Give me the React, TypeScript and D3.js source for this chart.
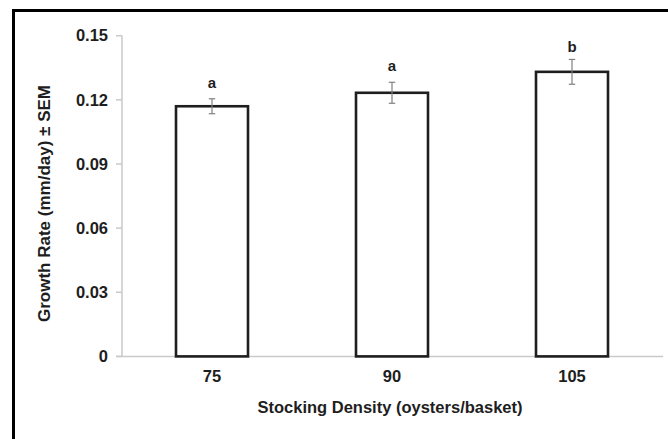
import React from "react";
import * as d3 from "d3";

const categories = ["75", "90", "105"];
const means = [0.117, 0.1233, 0.1331];
const sems = [0.0035, 0.0049, 0.0058];
const letters = ["a", "a", "b"];
const yTicks = [0, 0.03, 0.06, 0.09, 0.12, 0.15];

const W = 668;
const H = 439;
const FONT = "'Liberation Sans', Arial, Helvetica, sans-serif";
const TEXT = "#1e1e1e";

export default function App() {
  const left = 122;
  const right = 662;
  const top = 35.7;
  const bottom = 356.4;

  const x = d3
    .scaleBand<string>()
    .domain(categories)
    .range([left, right])
    .paddingInner(0.6)
    .paddingOuter(0.3);
  const y = d3.scaleLinear().domain([0, 0.15]).range([bottom, top]);
  const fmt = (v: number) => (v === 0 ? "0" : d3.format(".2f")(v));

  return (
    <svg
      width={W}
      height={H}
      style={{ position: "absolute", left: 0, top: 0, background: "#fff" }}
      fontFamily={FONT}
    >
      <rect x={0} y={0} width={W} height={H} fill="#fff" />
      {/* outer frame (clipped right and bottom) */}
      <path d={`M13.5,${H + 5} V10.5 H${W + 5}`} fill="none" stroke="#000" strokeWidth={3} />

      {/* y axis */}
      <line x1={left} x2={left} y1={y(0.15)} y2={bottom} stroke="#c9c9c9" strokeWidth={1.5} />
      {yTicks.map((t) => (
        <g key={t}>
          <line x1={left - 6} x2={left} y1={y(t)} y2={y(t)} stroke="#c9c9c9" strokeWidth={1.5} />
          <text
            x={108}
            y={y(t)}
            dy="0.35em"
            textAnchor="end"
            fontSize={16.5}
            fontWeight="bold"
            fill={TEXT}
          >
            {fmt(t)}
          </text>
        </g>
      ))}
      {/* x axis baseline */}
      <line x1={left - 6} x2={right + 1} y1={bottom} y2={bottom} stroke="#c9c9c9" strokeWidth={1.5} />

      {/* bars */}
      {categories.map((c, i) => {
        const bx = x(c)!;
        const bw = x.bandwidth();
        const cx = bx + bw / 2;
        const yTop = y(means[i]);
        const eHi = y(means[i] + sems[i]);
        const eLo = y(means[i] - sems[i]);
        return (
          <g key={c}>
            <rect
              x={bx}
              y={yTop}
              width={bw}
              height={bottom - yTop}
              fill="#fff"
              stroke="#1e1e1e"
              strokeWidth={2.6}
            />
            <line x1={cx} x2={cx} y1={eHi} y2={eLo} stroke="#808080" strokeWidth={1.2} />
            <line x1={cx - 3.2} x2={cx + 3.2} y1={eHi} y2={eHi} stroke="#808080" strokeWidth={1.2} />
            <line x1={cx - 3.2} x2={cx + 3.2} y1={eLo} y2={eLo} stroke="#808080" strokeWidth={1.2} />
            <text
              x={cx}
              y={eHi - (letters[i] === "b" ? 7 : 11)}
              textAnchor="middle"
              fontSize={15}
              fontWeight="bold"
              fill={TEXT}
            >
              {letters[i]}
            </text>
            <text
              x={cx}
              y={382}
              textAnchor="middle"
              fontSize={16.5}
              fontWeight="bold"
              fill={TEXT}
            >
              {c}
            </text>
          </g>
        );
      })}

      {/* axis titles */}
      <text
        x={(left + right) / 2 - 2}
        y={413}
        textAnchor="middle"
        fontSize={16.5}
        fontWeight="bold"
        fill={TEXT}
      >
        Stocking Density (oysters/basket)
      </text>
      <text
        transform={`translate(50,${203.5}) rotate(-90)`}
        textAnchor="middle"
        fontSize={17}
        fontWeight="bold"
        fill={TEXT}
      >
        Growth Rate (mm/day) ± SEM
      </text>
    </svg>
  );
}
